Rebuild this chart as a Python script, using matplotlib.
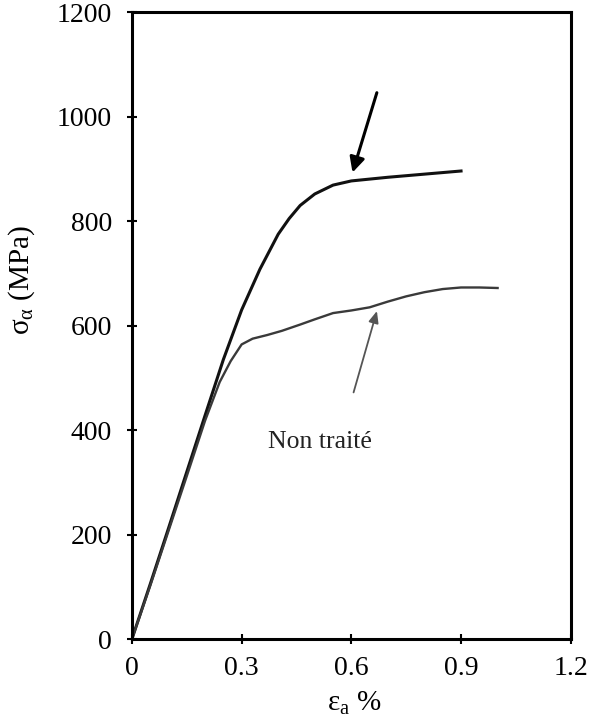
import matplotlib
matplotlib.use("Agg")
import matplotlib.pyplot as plt

# Données
traite_x = [0, 0.05, 0.10, 0.15, 0.20, 0.25, 0.30, 0.35, 0.40, 0.43, 0.46, 0.50, 0.55, 0.60, 0.70, 0.80, 0.90]
traite_y = [0, 105, 212, 320, 428, 535, 630, 708, 775, 805, 830, 852, 869, 877, 884, 890, 896]

non_traite_x = [0, 0.05, 0.10, 0.15, 0.20, 0.24, 0.27, 0.30, 0.33, 0.37, 0.41, 0.46, 0.50,
                0.55, 0.60, 0.65, 0.70, 0.75, 0.80, 0.85, 0.90, 0.95, 1.00]
non_traite_y = [0, 102, 207, 312, 418, 492, 532, 564, 575, 582, 590, 602, 612,
                624, 629, 635, 646, 656, 664, 670, 673, 673, 672]

x_ticks = [0, 0.3, 0.6, 0.9, 1.2]
x_tick_labels = ["0", "0.3", "0.6", "0.9", "1.2"]
y_ticks = [0, 200, 400, 600, 800, 1000, 1200]

plt.rcParams["font.family"] = ["Liberation Serif", "DejaVu Serif"]
plt.rcParams["mathtext.fontset"] = "stix"

fig = plt.figure(figsize=(5.89, 7.18), dpi=100)
ax = fig.add_axes([0.224, 0.110, 0.745, 0.873])

# Courbes
ax.plot(traite_x, traite_y, color="#111111", lw=2.2)
ax.plot(non_traite_x, non_traite_y, color="#3a3a3a", lw=1.7)

# Flèches
ax.annotate("", xy=(0.601, 888), xytext=(0.672, 1051),
            arrowprops=dict(arrowstyle="-|>,head_length=0.9,head_width=0.45",
                            color="black", lw=2.2))
ax.annotate("", xy=(0.672, 633), xytext=(0.604, 467),
            arrowprops=dict(arrowstyle="-|>,head_length=0.7,head_width=0.3",
                            color="#555555", lw=1.3))
ax.text(0.514, 377, "Non traité", fontsize=18.5, ha="center", va="center", color="#222222")

# Axes
ax.set_xlim(0, 1.2)
ax.set_ylim(0, 1200)
ax.set_xticks(x_ticks)
ax.set_xticklabels(x_tick_labels)
ax.set_yticks(y_ticks)
ax.tick_params(direction="inout", length=7, width=1.5, labelsize=20, labelcolor="black")
ax.tick_params(axis="y", pad=11)
ax.tick_params(axis="x", pad=9)
for spine in ax.spines.values():
    spine.set_linewidth(2.2)

ax.set_ylabel(r"$\mathregular{σ_α}$ (MPa)", fontsize=21)
ax.yaxis.set_label_coords(-0.216, 0.573)
ax.set_xlabel(r"$\mathregular{ε_a}$ %", fontsize=21)
ax.xaxis.set_label_coords(0.508, -0.081)

plt.savefig("out.png", dpi=100)
